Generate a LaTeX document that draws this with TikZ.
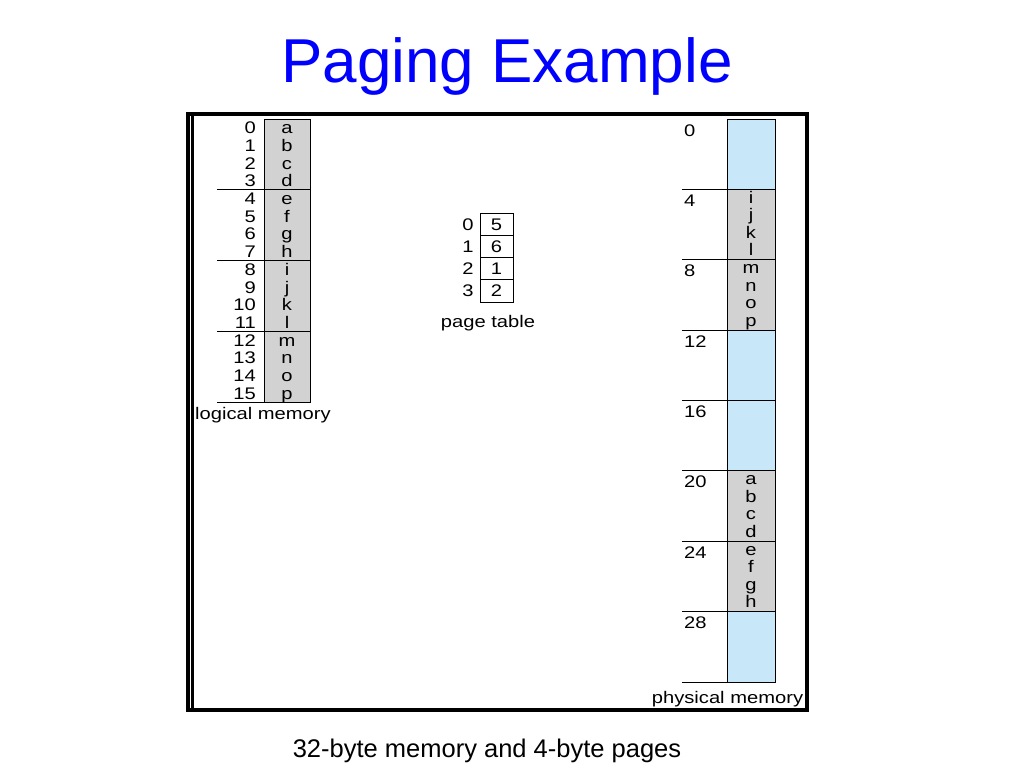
\documentclass[tikz,border=0pt]{standalone}
\usepackage{fontspec}
\setmainfont{Liberation Sans}
\newfontfamily\diag[FakeStretch=1.2]{Liberation Sans}
\definecolor{titleblue}{RGB}{0,0,255}
\definecolor{pmblue}{RGB}{200,232,250}
\definecolor{pgray}{RGB}{210,210,210}
\tikzset{
  lbl/.style={inner sep=0pt, font=\diag\fontsize{16.8}{18}\selectfont, anchor=base},
  lblw/.style={lbl, anchor=base west},
  lble/.style={lbl, anchor=base east},
  rulel/.style={line width=0.8pt, draw=black},
  graycell/.style={fill=pgray, draw=black, line width=0.8pt},
  bluecell/.style={fill=pmblue, draw=black, line width=0.8pt},
  ptcell/.style={draw=black, line width=0.8pt, fill=white},
}
\begin{document}
\begin{tikzpicture}[x=1pt,y=-1pt]
\useasboundingbox (0,0) rectangle (1024,768);
\fill[white] (0,0) rectangle (1024,768);

% title and caption
\node[inner sep=0pt, anchor=base, text=titleblue, font=\fontsize{62}{70}\selectfont] (title) at (507,82) {Paging Example};
\node[inner sep=0pt, anchor=base, font=\fontsize{25.5}{30}\selectfont] (caption) at (487,757) {32-byte memory and 4-byte pages};

% ---------- logical memory ----------
\draw[graycell] (264,119) rectangle (310,402);
\foreach \p in {1,2,3,4}{
  \draw[rulel] (217,119+70.75*\p) -- (310,119+70.75*\p);
}
\foreach \l [count=\i from 0] in {a,b,c,d,e,f,g,h,i,j,k,l,m,n,o,p}{
  \node[lble] (lnum\i) at (256,119+17.6875*\i+8.85+6) {\i};
  \node[lbl] (llet\i) at (287,119+17.6875*\i+8.85+6) {\l};
}
\node[lbl] (lmlabel) at (263,419) {logical memory};

% ---------- page table ----------
\foreach \v [count=\r from 0] in {5,6,1,2}{
  \draw[ptcell] (480,213+22.25*\r) rectangle (513,213+22.25*\r+22.25);
  \node[lbl] (ptidx\r) at (468,213+22.25*\r+11.1+6) {\r};
  \node[lbl] (ptval\r) at (496.5,213+22.25*\r+11.1+6) {\v};
}
\node[lbl] (ptlabel) at (488,327) {page table};

% ---------- physical memory ----------
\foreach \f/\c in {0/bluecell,1/graycell,2/graycell,3/bluecell,4/bluecell,5/graycell,6/graycell,7/bluecell}{
  \draw[\c] (727,119+70.375*\f) rectangle (775,119+70.375*\f+70.375);
  \draw[rulel] (682,119+70.375*\f+70.375) -- (727,119+70.375*\f+70.375);
  \pgfmathtruncatemacro{\addr}{4*\f}
  \node[lblw] (paddr\f) at (684,119+70.375*\f+17) {\addr};
}
\foreach \l/\f/\o [count=\k] in {a/5/0,b/5/1,c/5/2,d/5/3,e/6/0,f/6/1,g/6/2,h/6/3,i/1/0,j/1/1,k/1/2,l/1/3,m/2/0,n/2/1,o/2/2,p/2/3}{
  \node[lbl] (plet\k) at (751,119+70.375*\f+17.6*\o+8.8+5) {\l};
}
\node[lbl] (pmlabel) at (727.5,703) {physical memory};

% ---------- frame ----------
\draw[line width=4pt] (188,114) rectangle (807,710);
\draw[line width=2.6pt] (192.3,112) -- (192.3,712);
\draw[white, line width=0.9pt] (190.3,116) -- (190.3,708);
\end{tikzpicture}
\end{document}
